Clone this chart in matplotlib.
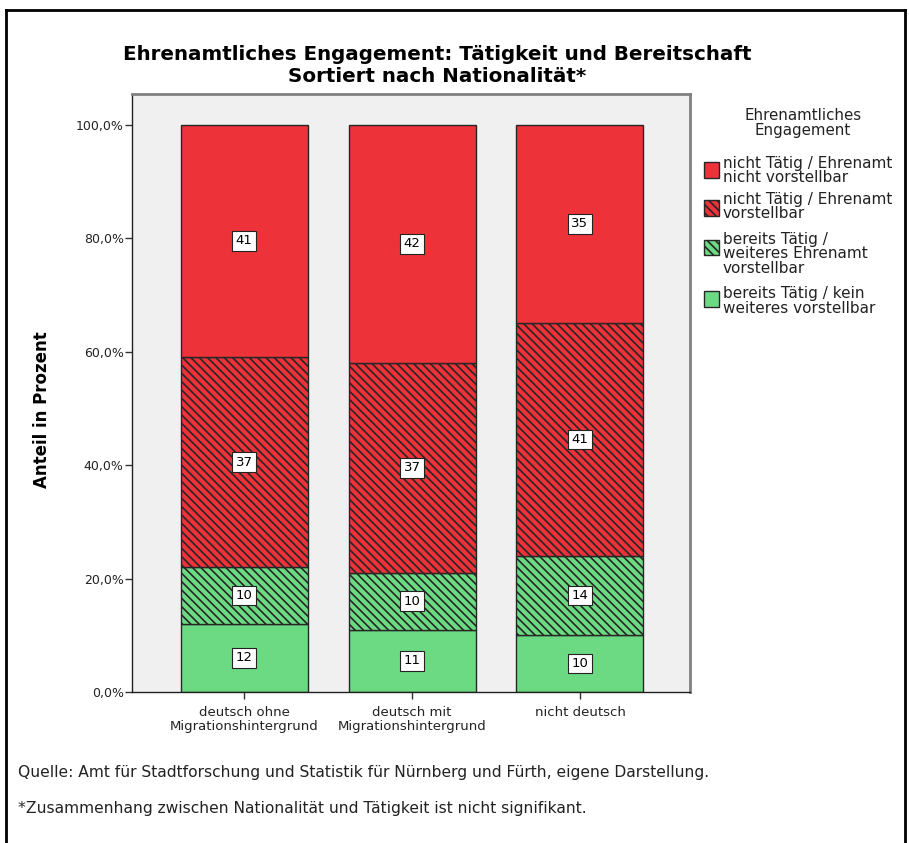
import numpy as np
import matplotlib.pyplot as plt
from matplotlib.patches import Rectangle
from matplotlib.lines import Line2D

## Daten (Anzahl je Gruppe, von unten nach oben gestapelt)
groups = ["deutsch ohne\nMigrationshintergrund", "deutsch mit\nMigrationshintergrund", "nicht deutsch"]
kein_weiteres = [12, 11, 10]        # bereits Tätig / kein weiteres vorstellbar
weiteres = [10, 10, 14]             # bereits Tätig / weiteres Ehrenamt vorstellbar
vorstellbar = [37, 37, 41]          # nicht Tätig / Ehrenamt vorstellbar
nicht_vorstellbar = [41, 42, 35]    # nicht Tätig / Ehrenamt nicht vorstellbar

series_labels = ["bereits Tätig / kein\nweiteres vorstellbar",
                 "bereits Tätig /\nweiteres Ehrenamt\nvorstellbar",
                 "nicht Tätig / Ehrenamt\nvorstellbar",
                 "nicht Tätig / Ehrenamt\nnicht vorstellbar"]
yticks = [0, 20, 40, 60, 80, 100]

red = "#EE3239"
green = "#6CDA83"
colors = [green, green, red, red]
hatches = [None, "\\\\\\\\", "\\\\\\\\", None]

W, H = 909, 843
def fx(x): return x / W
def fy(y): return 1 - y / H

plt.rcParams['hatch.linewidth'] = 1.2
fig = plt.figure(figsize=(9.09, 8.43), dpi=100)
ax = fig.add_axes([fx(132), fy(692), 558 / W, 598 / H])
ax.set_facecolor("#F0F0F0")

counts = np.array([kein_weiteres, weiteres, vorstellbar, nicht_vorstellbar], dtype=float)
pct = counts / counts.sum(axis=0) * 100
x = np.arange(len(groups))
bottom = np.zeros(len(groups))
for i in range(4):
    ax.bar(x, pct[i], bottom=bottom, width=0.756, color=colors[i], edgecolor="#262626",
           linewidth=1.0, hatch=hatches[i])
    for j in range(len(groups)):
        ax.text(x[j], bottom[j] + pct[i][j] / 2, "%d" % counts[i][j], ha="center", va="center",
                fontsize=9.5, color="black",
                bbox=dict(boxstyle="square,pad=0.25", fc="white", ec="#222222", lw=0.8))
    bottom += pct[i]

ax.set_xlim(-0.667, 2.655)
ax.set_ylim(0, 105.4)
ax.set_yticks(yticks)
ax.set_yticklabels([("%.1f%%" % v).replace(".", ",") for v in yticks], fontsize=9, color="#222222")
ax.set_xticks(x)
ax.set_xticklabels(groups, fontsize=9.5, linespacing=1.1, color="#222222")
ax.tick_params(axis="both", direction="out", length=5, width=1, color="#333333")
ax.tick_params(axis="y", pad=1)
ax.tick_params(axis="x", pad=5)
for s in ["left", "bottom"]:
    ax.spines[s].set_color("#222222")
    ax.spines[s].set_linewidth(1.0)
for s in ["top", "right"]:
    ax.spines[s].set_color("#808080")
    ax.spines[s].set_linewidth(2.0)

## Titel und Achsenbeschriftung
fig.text(fx(437), fy(55), "Ehrenamtliches Engagement: Tätigkeit und Bereitschaft",
         ha="center", va="center", fontsize=14.3, fontweight="bold")
fig.text(fx(437), fy(77), "Sortiert nach Nationalität*",
         ha="center", va="center", fontsize=14.3, fontweight="bold")
fig.text(fx(42), fy(410), "Anteil in Prozent", rotation=90, ha="center", va="center",
         fontsize=12, fontweight="bold")

## Legende
fig.text(fx(803), fy(123.5), "Ehrenamtliches\nEngagement", ha="center", va="center",
         fontsize=10.8, linespacing=1.0, color="#222222")
text_y = [170.5, 206.5, 254, 301]
patch_y = [170, 208, 247, 299]
for k, i in enumerate([3, 2, 1, 0]):
    fig.add_artist(Rectangle((fx(704), fy(patch_y[k] + 7.5)), 15 / W, 15 / H,
                             transform=fig.transFigure, facecolor=colors[i],
                             edgecolor="#262626", linewidth=1.0, hatch=hatches[i]))
    fig.text(fx(723), fy(text_y[k]), series_labels[i], ha="left", va="center",
             fontsize=11, linespacing=0.95, color="#222222")

## Fußnoten
fig.text(fx(18), fy(773), "Quelle: Amt für Stadtforschung und Statistik für Nürnberg und Fürth, eigene Darstellung.",
         ha="left", va="center", fontsize=11.2, color="#222222")
fig.text(fx(18), fy(808), "*Zusammenhang zwischen Nationalität und Tätigkeit ist nicht signifikant.",
         ha="left", va="center", fontsize=11.2, color="#222222")

## Rahmen
fig.add_artist(Line2D([fx(6), fx(6)], [0, fy(10)], color="black", lw=2))
fig.add_artist(Line2D([fx(6), fx(905)], [fy(10), fy(10)], color="black", lw=2))
fig.add_artist(Line2D([fx(905), fx(905)], [0, fy(10)], color="black", lw=2))

plt.savefig("out.png", dpi=100)
